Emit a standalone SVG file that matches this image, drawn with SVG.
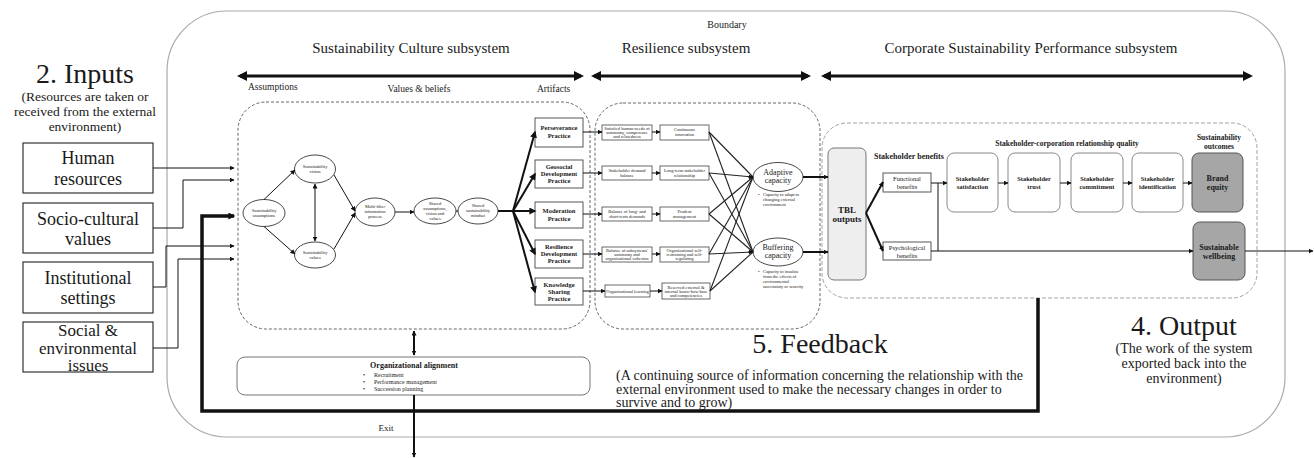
<svg xmlns="http://www.w3.org/2000/svg" width="1314" height="458" viewBox="0 0 1314 458">
<style>
text{font-family:"Liberation Serif","DejaVu Serif",serif;fill:#1a1a1a}
.c{text-anchor:middle}
.b{font-weight:bold}
.ln{fill:none;stroke:#111;stroke-width:1}
.thk{fill:none;stroke:#111;stroke-width:2}
.ibox{fill:#fff;stroke:#333;stroke-width:1.2}
.ell{fill:#fff;stroke:#333;stroke-width:0.9}
.pbox{fill:#fff;stroke:#444;stroke-width:0.9}
.rbox{fill:#fff;stroke:#444;stroke-width:0.8}
.sbox{fill:#fff;stroke:#888;stroke-width:1}
.gbox{fill:#a6a6a6;stroke:#555;stroke-width:1}
.dash{fill:none;stroke:#555;stroke-width:0.9;stroke-dasharray:3 2}
.gdash{fill:none;stroke:#999;stroke-width:0.9;stroke-dasharray:4 2}
.t5{font-size:4.5px}
.t6{font-size:6px}
.t7{font-size:6.5px}
.t8{font-size:8px}
.sub{font-size:13.5px}
</style>
<defs>
<marker id="ah" viewBox="0 0 10 10" refX="9" refY="5" markerWidth="5" markerHeight="5" orient="auto-start-reverse" markerUnits="userSpaceOnUse"><path d="M0,0 L10,5 L0,10 z" fill="#111"/></marker>
<marker id="ahm" viewBox="0 0 10 10" refX="8" refY="5" markerWidth="8" markerHeight="7" orient="auto-start-reverse" markerUnits="userSpaceOnUse"><path d="M0,0 L10,5 L0,10 z" fill="#111"/></marker>
<marker id="ahb" viewBox="0 0 10 10" refX="7" refY="5" markerWidth="12" markerHeight="10" orient="auto-start-reverse" markerUnits="userSpaceOnUse"><path d="M0,0 L10,5 L0,10 z" fill="#111"/></marker>
</defs>
<rect width="1314" height="458" fill="#fff"/>

<g id="boundary">
<rect x="167" y="11" width="1118" height="426" rx="60" fill="none" stroke="#aaa" stroke-width="1.2"/>
<text x="727" y="28" class="c" font-size="10">Boundary</text>
</g>

<g id="headers">
<text x="411" y="53" class="c" font-size="15">Sustainability Culture subsystem</text>
<text x="686" y="53" class="c" font-size="15">Resilience subsystem</text>
<text x="1031" y="53" class="c" font-size="15">Corporate Sustainability Performance subsystem</text>
<text x="248" y="90" font-size="9.5">Assumptions</text>
<text x="419" y="92" class="c" font-size="9.5">Values &amp; beliefs</text>
<text x="537" y="92" font-size="9.5">Artifacts</text>
</g>

<g id="inputs-title">
<text x="85" y="83" class="c" font-size="28">2. Inputs</text>
<text x="85" y="101" class="c sub">(Resources are taken or</text>
<text x="85" y="116" class="c sub">received from the external</text>
<text x="85" y="131" class="c sub">environment)</text>
</g>
<g id="in-human"><rect x="23" y="143" width="130" height="50" class="ibox"/><text x="88" y="164" class="c" font-size="18">Human</text><text x="88" y="185" class="c" font-size="18">resources</text></g>
<g id="in-socio"><rect x="23" y="203" width="130" height="50" class="ibox"/><text x="88" y="225" class="c" font-size="18">Socio-cultural</text><text x="88" y="245" class="c" font-size="18">values</text></g>
<g id="in-inst"><rect x="23" y="262" width="130" height="51" class="ibox"/><text x="88" y="284" class="c" font-size="18">Institutional</text><text x="88" y="304" class="c" font-size="18">settings</text></g>
<g id="in-social"><rect x="23" y="322" width="130" height="50" class="ibox"/><text x="88" y="336" class="c" font-size="17">Social &amp;</text><text x="88" y="354" class="c" font-size="17">environmental</text><text x="88" y="371" class="c" font-size="17">issues</text></g>

<g id="culture-box"><rect x="238" y="102" width="352" height="227" rx="28" class="dash"/></g>
<g id="resilience-box"><rect x="595" y="103" width="225" height="226" rx="28" class="dash"/></g>
<g id="csp-box"><rect x="822" y="123" width="435" height="175" rx="25" class="gdash"/></g>

<g id="e-assump"><ellipse cx="264" cy="213" rx="21" ry="13.5" class="ell"/><text x="264" y="212" class="c t5">Sustainability</text><text x="264" y="217" class="c t5">assumptions</text></g>
<g id="e-vision"><ellipse cx="315" cy="169" rx="20.5" ry="14" class="ell"/><text x="315" y="168" class="c t5">Sustainability</text><text x="315" y="173" class="c t5">vision</text></g>
<g id="e-values"><ellipse cx="315" cy="255" rx="20.5" ry="13" class="ell"/><text x="315" y="254" class="c t5">Sustainability</text><text x="315" y="259" class="c t5">values</text></g>
<g id="e-multi"><ellipse cx="375" cy="212" rx="20" ry="14" class="ell"/><text x="375" y="208" class="c t5">Multi-filter</text><text x="375" y="213" class="c t5">information</text><text x="375" y="218" class="c t5">process</text></g>
<g id="e-shared"><ellipse cx="435" cy="211" rx="21" ry="13" class="ell"/><text x="435" y="205" class="c t5">Shared</text><text x="435" y="210" class="c t5">assumptions,</text><text x="435" y="215" class="c t5">vision and</text><text x="435" y="220" class="c t5">values</text></g>
<g id="e-mindset"><ellipse cx="478" cy="211" rx="20" ry="13" class="ell"/><text x="478" y="207" class="c t5">Shared</text><text x="478" y="212" class="c t5">sustainability</text><text x="478" y="217" class="c t5">mindset</text></g>

<g id="p-persev"><rect x="535" y="118" width="48" height="29" class="pbox"/><text x="559" y="130" class="c b t7">Perseverance</text><text x="559" y="138" class="c b t7">Practice</text></g>
<g id="p-geo"><rect x="535" y="160" width="48" height="28" class="pbox"/><text x="559" y="169" class="c b t7">Geosocial</text><text x="559" y="176" class="c b t7">Development</text><text x="559" y="183" class="c b t7">Practice</text></g>
<g id="p-mod"><rect x="535" y="202" width="48" height="26" class="pbox"/><text x="559" y="213" class="c b t7">Moderation</text><text x="559" y="221" class="c b t7">Practice</text></g>
<g id="p-resdev"><rect x="535" y="240" width="48" height="28" class="pbox"/><text x="559" y="249" class="c b t7">Resilience</text><text x="559" y="256" class="c b t7">Development</text><text x="559" y="263" class="c b t7">Practice</text></g>
<g id="p-know"><rect x="535" y="278" width="48" height="27" class="pbox"/><text x="559" y="287" class="c b t7">Knowledge</text><text x="559" y="294" class="c b t7">Sharing</text><text x="559" y="301" class="c b t7">Practice</text></g>

<g id="r1a"><rect x="602" y="125" width="50" height="15" class="rbox"/><text x="627" y="130" class="c t5">Satisfied human needs of</text><text x="627" y="134" class="c t5">autonomy, competence</text><text x="627" y="138" class="c t5">and relatedness</text></g>
<g id="r1b"><rect x="660" y="125" width="49" height="15" class="rbox"/><text x="684.5" y="131" class="c t5">Continuous</text><text x="684.5" y="136" class="c t5">innovation</text></g>
<g id="r2a"><rect x="602" y="166" width="50" height="14" class="rbox"/><text x="627" y="172" class="c t5">Stakeholder demand</text><text x="627" y="177" class="c t5">balance</text></g>
<g id="r2b"><rect x="660" y="166" width="49" height="14" class="rbox"/><text x="684.5" y="172" class="c t5">Long-term stakeholder</text><text x="684.5" y="177" class="c t5">relationship</text></g>
<g id="r3a"><rect x="602" y="207" width="50" height="14" class="rbox"/><text x="627" y="213" class="c t5">Balance of long- and</text><text x="627" y="218" class="c t5">short-term demands</text></g>
<g id="r3b"><rect x="660" y="207" width="49" height="14" class="rbox"/><text x="684.5" y="213" class="c t5">Prudent</text><text x="684.5" y="218" class="c t5">management</text></g>
<g id="r4a"><rect x="602" y="247" width="50" height="15" class="rbox"/><text x="627" y="252" class="c t5">Balance of subsystems'</text><text x="627" y="256" class="c t5">autonomy and</text><text x="627" y="260" class="c t5">organizational cohesion</text></g>
<g id="r4b"><rect x="660" y="247" width="49" height="15" class="rbox"/><text x="684.5" y="252" class="c t5">Organizational self-</text><text x="684.5" y="256" class="c t5">restraining and self-</text><text x="684.5" y="260" class="c t5">regulating</text></g>
<g id="r5a"><rect x="605" y="285" width="45" height="12" class="rbox"/><text x="627.5" y="292.5" class="c t5">Organizational learning</text></g>
<g id="r5b"><rect x="662" y="283" width="48" height="16" class="rbox"/><text x="686" y="288.5" class="c t5">Reserved external &amp;</text><text x="686" y="292.5" class="c t5">internal know-how base</text><text x="686" y="296.5" class="c t5">and competencies</text></g>

<g id="adaptive"><ellipse cx="778" cy="177" rx="25" ry="14.5" class="ell"/><text x="778" y="175" class="c" font-size="8">Adaptive</text><text x="778" y="183" class="c" font-size="8">capacity</text>
<text x="758" y="196" class="t5">•</text><text x="763" y="196" class="t5">Capacity to adapt to</text><text x="763" y="201" class="t5">changing external</text><text x="763" y="206" class="t5">environment</text></g>
<g id="buffering"><ellipse cx="778" cy="252" rx="25" ry="14" class="ell"/><text x="778" y="250" class="c" font-size="8">Buffering</text><text x="778" y="258" class="c" font-size="8">capacity</text>
<text x="758" y="273" class="t5">•</text><text x="763" y="273" class="t5">Capacity to insulate</text><text x="763" y="278" class="t5">from the effects of</text><text x="763" y="283" class="t5">environmental</text><text x="763" y="288" class="t5">uncertainty or scarcity</text></g>

<g id="tbl"><rect x="828" y="148" width="38" height="132" rx="6" fill="#eee" stroke="#777" stroke-width="1"/><text x="847" y="213" class="c b" font-size="9">TBL</text><text x="847" y="222" class="c b" font-size="9">outputs</text></g>
<g id="csp-labels">
<text x="874" y="159" class="b t8">Stakeholder benefits</text>
<text x="1067" y="146" class="c b" font-size="7.5">Stakeholder-corporation  relationship quality</text>
<text x="1219" y="140" class="c b" font-size="7.5">Sustainability</text>
<text x="1219" y="149" class="c b" font-size="7.5">outcomes</text>
</g>
<g id="functional"><rect x="883" y="173" width="48" height="19" class="pbox"/><text x="907" y="181" class="c t7">Functional</text><text x="907" y="189" class="c t7">benefits</text></g>
<g id="psych"><rect x="883" y="242" width="48" height="18" class="pbox"/><text x="907" y="250" class="c t7">Psychological</text><text x="907" y="258" class="c t7">benefits</text></g>
<g id="satisfaction"><rect x="947" y="153" width="51" height="59" rx="7" class="sbox"/><text x="972.5" y="181" class="c b t7">Stakeholder</text><text x="972.5" y="189" class="c b t7">satisfaction</text></g>
<g id="trust"><rect x="1008" y="153" width="52" height="59" rx="7" class="sbox"/><text x="1034" y="181" class="c b t7">Stakeholder</text><text x="1034" y="189" class="c b t7">trust</text></g>
<g id="commitment"><rect x="1071" y="153" width="52" height="59" rx="7" class="sbox"/><text x="1097" y="181" class="c b t7">Stakeholder</text><text x="1097" y="189" class="c b t7">commitment</text></g>
<g id="identification"><rect x="1132" y="153" width="51" height="59" rx="7" class="sbox"/><text x="1157.5" y="181" class="c b t7">Stakeholder</text><text x="1157.5" y="189" class="c b t7">identification</text></g>
<g id="brand"><rect x="1192" y="153" width="51" height="59" rx="7" class="gbox"/><text x="1217.5" y="181" class="c b t8">Brand</text><text x="1217.5" y="190" class="c b t8">equity</text></g>
<g id="wellbeing"><rect x="1193" y="222" width="52" height="58" rx="7" class="gbox"/><text x="1219" y="250" class="c b t8">Sustainable</text><text x="1219" y="259" class="c b t8">wellbeing</text></g>

<g id="org-align"><rect x="237" y="357" width="353" height="38" rx="8" fill="#fff" stroke="#777" stroke-width="1"/>
<text x="414" y="368" class="c b t8">Organizational alignment</text>
<text x="363" y="377" class="t6">•</text><text x="374" y="377" class="t6">Recruitment</text>
<text x="363" y="384" class="t6">•</text><text x="374" y="384" class="t6">Performance management</text>
<text x="363" y="391" class="t6">•</text><text x="374" y="391" class="t6">Succession planning</text>
</g>

<g id="feedback-text">
<text x="820" y="353" class="c" font-size="28">5. Feedback</text>
<text x="616" y="380" font-size="14">(A continuing source of information concerning the relationship with the</text>
<text x="616" y="394" font-size="14">external environment used to make the necessary changes in order to</text>
<text x="616" y="407" font-size="14">survive and to grow)</text>
</g>
<g id="output-text">
<text x="1184" y="335" class="c" font-size="28">4. Output</text>
<text x="1184" y="353" class="c" font-size="14">(The work of the system</text>
<text x="1184" y="368" class="c" font-size="14">exported  back into the</text>
<text x="1184" y="383" class="c" font-size="14">environment)</text>
</g>
<g id="exit-label"><text x="386" y="431" class="c" font-size="9">Exit</text></g>

<g id="connectors">
<line x1="240" y1="76" x2="581" y2="76" stroke="#111" stroke-width="3" marker-start="url(#ahb)" marker-end="url(#ahb)"/>
<line x1="594" y1="76" x2="808" y2="76" stroke="#111" stroke-width="3" marker-start="url(#ahb)" marker-end="url(#ahb)"/>
<line x1="824" y1="76" x2="1250" y2="76" stroke="#111" stroke-width="3" marker-start="url(#ahb)" marker-end="url(#ahb)"/>

<path d="M153,168 H234" class="ln" marker-end="url(#ah)"/>
<path d="M153,228 H183 V180 H234" class="ln" marker-end="url(#ah)"/>
<path d="M153,287 H166 V246 H234" class="ln" marker-end="url(#ah)"/>
<path d="M153,348 H178 V259 H234" class="ln" marker-end="url(#ah)"/>
<path d="M1038,298 V411 H202 V216 H234" fill="none" stroke="#111" stroke-width="3.5" marker-end="url(#ahm)"/>

<path d="M264,199.5 L295,170" class="ln" marker-end="url(#ah)"/>
<path d="M264,226.5 L295,254" class="ln" marker-end="url(#ah)"/>
<path d="M315,184 V241" class="ln" marker-start="url(#ah)" marker-end="url(#ah)"/>
<path d="M334,175 L355,211" class="ln" marker-end="url(#ah)"/>
<path d="M334,249 L355,213" class="ln" marker-end="url(#ah)"/>
<path d="M395,212 H414" class="ln" marker-end="url(#ah)"/>
<path d="M456,211 H458" class="ln"/>
<path d="M498,211 H513" class="thk"/>
<path d="M513,211 L535,132" class="thk" marker-end="url(#ahm)"/>
<path d="M513,211 L535,174" class="thk" marker-end="url(#ahm)"/>
<path d="M513,211 H535" class="thk" marker-end="url(#ahm)"/>
<path d="M513,211 L535,254" class="thk" marker-end="url(#ahm)"/>
<path d="M513,211 L535,292" class="thk" marker-end="url(#ahm)"/>

<path d="M583,132 H602" class="ln" marker-end="url(#ah)"/>
<path d="M583,173 H602" class="ln" marker-end="url(#ah)"/>
<path d="M583,214 H602" class="ln" marker-end="url(#ah)"/>
<path d="M583,254 H602" class="ln" marker-end="url(#ah)"/>
<path d="M583,291 H605" class="ln" marker-end="url(#ah)"/>
<path d="M652,132 H660" class="ln" marker-end="url(#ah)"/>
<path d="M652,173 H660" class="ln" marker-end="url(#ah)"/>
<path d="M652,214 H660" class="ln" marker-end="url(#ah)"/>
<path d="M652,254 H660" class="ln" marker-end="url(#ah)"/>
<path d="M650,291 H662" class="ln" marker-end="url(#ah)"/>

<g stroke="#222" stroke-width="1.1" fill="none">
<path d="M709,132 L753,177"/><path d="M709,132 L753,252"/>
<path d="M709,173 L753,177"/><path d="M709,173 L753,252"/>
<path d="M709,214 L753,177"/><path d="M709,214 L753,252"/>
<path d="M709,254 L753,177"/><path d="M709,254 L753,252"/>
<path d="M710,291 L753,177"/><path d="M710,291 L753,252"/>
</g>
<path d="M748,177 H753" class="ln" marker-end="url(#ah)"/>
<path d="M748,252 H753" class="ln" marker-end="url(#ah)"/>
<path d="M803,177 H828" class="thk" marker-end="url(#ah)"/>
<path d="M803,252 H828" class="thk" marker-end="url(#ah)"/>

<path d="M866,213 L883,182" class="thk" marker-end="url(#ah)"/>
<path d="M866,213 L883,251" class="thk" marker-end="url(#ah)"/>
<path d="M931,183 H947" class="ln" marker-end="url(#ah)"/>
<path d="M938,183 V251" class="ln"/>
<path d="M931,251 H1193" class="ln" stroke-width="1.3" marker-end="url(#ah)"/>
<path d="M998,183 H1008" class="ln" marker-end="url(#ah)"/>
<path d="M1060,183 H1071" class="ln" marker-end="url(#ah)"/>
<path d="M1123,183 H1132" class="ln" marker-end="url(#ah)"/>
<path d="M1183,183 H1192" class="ln" marker-end="url(#ah)"/>
<path d="M1245,251 H1313" class="ln" marker-end="url(#ah)"/>

<path d="M414,331 V355" class="thk" marker-start="url(#ah)" marker-end="url(#ah)"/>
<path d="M414,395 V457" class="thk" marker-end="url(#ah)"/>
</g>
</svg>
